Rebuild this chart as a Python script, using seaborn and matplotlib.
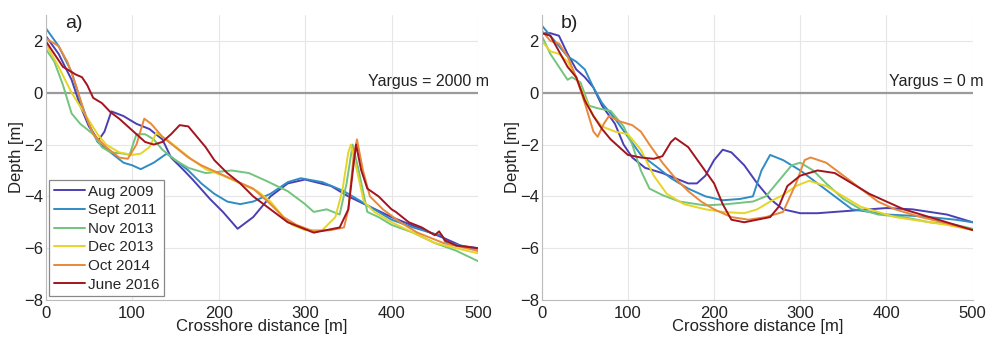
import pandas as pd
import seaborn as sns
import matplotlib
matplotlib.use("Agg")
import matplotlib.pyplot as plt

surveys = ['Aug 2009', 'Sept 2011', 'Nov 2013', 'Dec 2013', 'Oct 2014', 'June 2016']
colors = ['#4a3fb3', '#2f8cc4', '#72c47e', '#e6d426', '#e8883a', '#a3141e']

# panel a) Yargus = 2000 m
a_aug_x = [0, 15, 30, 40, 50, 61, 68, 76, 90, 105, 120, 135, 145, 160, 170, 190, 205, 222, 240, 260, 280, 300, 330, 350, 375, 400, 430, 460, 480, 500]
a_aug_y = [2.2, 1.5, 0.5, -0.5, -1.3, -1.84, -1.5, -0.72, -0.9, -1.2, -1.4, -1.8, -2.5, -3.0, -3.35, -4.1, -4.6, -5.25, -4.8, -4.0, -3.5, -3.35, -3.6, -4.0, -4.4, -4.8, -5.2, -5.6, -5.9, -6.0]
a_sep_x = [0, 15, 30, 40, 50, 60, 75, 90, 100, 110, 125, 140, 150, 165, 180, 195, 210, 225, 240, 260, 280, 295, 320, 345, 365, 385, 400, 425, 450, 458, 462, 480, 500]
a_sep_y = [2.5, 1.8, 0.8, -0.3, -1.2, -1.9, -2.3, -2.7, -2.8, -2.95, -2.7, -2.35, -2.6, -3.0, -3.5, -3.9, -4.2, -4.3, -4.2, -3.9, -3.45, -3.3, -3.45, -3.8, -4.2, -4.6, -4.9, -5.2, -5.45, -5.5, -5.75, -5.9, -6.1]
a_nov_x = [0, 10, 20, 30, 40, 55, 65, 75, 90, 97, 105, 115, 125, 135, 150, 165, 185, 200, 215, 235, 255, 280, 300, 310, 325, 340, 348, 355, 362, 372, 385, 400, 425, 450, 475, 500]
a_nov_y = [1.7, 1.2, 0.3, -0.8, -1.2, -1.6, -2.1, -2.3, -2.35, -2.4, -1.6, -1.6, -1.8, -2.2, -2.6, -2.9, -3.1, -3.05, -3.0, -3.1, -3.4, -3.8, -4.3, -4.6, -4.5, -4.7, -3.5, -2.0, -3.0, -4.6, -4.8, -5.1, -5.4, -5.8, -6.1, -6.5]
a_dec_x = [0, 15, 30, 45, 60, 70, 85, 100, 110, 120, 128, 140, 155, 170, 185, 205, 225, 245, 260, 275, 285, 300, 320, 335, 343, 350, 353, 360, 368, 380, 400, 425, 450, 475, 500]
a_dec_y = [1.9, 1.0, 0.0, -0.8, -1.6, -2.0, -2.3, -2.4, -2.35, -2.1, -1.55, -1.8, -2.2, -2.6, -2.95, -3.2, -3.5, -3.8, -4.2, -4.8, -5.1, -5.3, -5.3, -4.8, -3.8, -2.3, -2.0, -3.0, -4.2, -4.6, -5.0, -5.4, -5.8, -6.0, -6.2]
a_oct_x = [0, 15, 25, 35, 45, 55, 70, 85, 95, 105, 114, 122, 135, 150, 165, 180, 200, 220, 240, 260, 275, 290, 310, 330, 345, 350, 356, 360, 367, 375, 390, 410, 430, 460, 500]
a_oct_y = [2.1, 1.8, 1.2, 0.3, -0.8, -1.6, -2.1, -2.5, -2.55, -2.0, -1.0, -1.2, -1.7, -2.1, -2.5, -2.8, -3.1, -3.4, -3.7, -4.3, -4.8, -5.1, -5.35, -5.3, -5.2, -4.5, -2.5, -1.8, -3.0, -4.0, -4.5, -5.0, -5.4, -5.8, -6.1]
a_jun_x = [0, 10, 20, 35, 42, 48, 55, 65, 75, 85, 95, 105, 115, 125, 135, 145, 155, 165, 175, 185, 195, 210, 225, 240, 260, 280, 295, 310, 325, 340, 350, 356, 359, 365, 372, 385, 400, 405, 420, 435, 450, 455, 462, 475, 500]
a_jun_y = [2.0, 1.5, 1.0, 0.7, 0.6, 0.3, -0.2, -0.4, -0.75, -1.0, -1.3, -1.6, -1.9, -2.0, -1.9, -1.6, -1.25, -1.3, -1.7, -2.1, -2.6, -3.1, -3.5, -4.0, -4.5, -5.0, -5.2, -5.4, -5.3, -5.2, -4.5, -2.8, -2.0, -3.0, -3.7, -4.0, -4.5, -4.6, -5.0, -5.2, -5.5, -5.35, -5.7, -5.9, -6.0]

# panel b) Yargus = 0 m
b_aug_x = [0, 10, 20, 30, 40, 50, 60, 70, 85, 95, 105, 120, 140, 155, 170, 180, 190, 200, 210, 220, 235, 250, 265, 280, 300, 320, 340, 360, 380, 400, 430, 450, 470, 490, 500]
b_aug_y = [2.3, 2.3, 2.2, 1.5, 0.9, 0.6, 0.2, -0.5, -1.2, -2.0, -2.5, -2.9, -3.1, -3.3, -3.5, -3.5, -3.2, -2.6, -2.2, -2.3, -2.8, -3.5, -4.1, -4.5, -4.65, -4.65, -4.6, -4.55, -4.5, -4.45, -4.5, -4.6, -4.7, -4.9, -5.0]
b_sep_x = [0, 10, 20, 30, 40, 50, 60, 70, 85, 100, 115, 135, 150, 170, 190, 210, 230, 245, 255, 265, 280, 300, 320, 340, 360, 380, 400, 430, 450, 480, 500]
b_sep_y = [2.6, 2.2, 1.8, 1.4, 1.2, 0.9, 0.2, -0.4, -1.0, -1.7, -2.4, -2.9, -3.3, -3.7, -4.0, -4.15, -4.1, -4.0, -3.0, -2.4, -2.6, -3.0, -3.5, -4.0, -4.5, -4.6, -4.7, -4.75, -4.8, -4.9, -5.0]
b_nov_x = [0, 10, 20, 30, 35, 45, 55, 65, 80, 95, 105, 115, 125, 140, 160, 190, 215, 245, 260, 275, 290, 300, 315, 330, 350, 370, 390, 420, 450, 480, 500]
b_nov_y = [2.2, 1.5, 1.0, 0.5, 0.6, 0.4, -0.5, -0.6, -0.7, -1.3, -2.0, -3.0, -3.7, -3.95, -4.2, -4.35, -4.3, -4.2, -4.0, -3.4, -2.8, -2.7, -3.0, -3.5, -4.1, -4.5, -4.7, -4.8, -5.0, -5.1, -5.25]
b_dec_x = [0, 10, 20, 30, 40, 50, 60, 70, 85, 100, 115, 130, 145, 165, 190, 210, 235, 250, 265, 280, 295, 310, 330, 350, 370, 390, 410, 440, 470, 500]
b_dec_y = [2.0, 1.6, 1.5, 1.2, 0.6, -0.2, -0.9, -1.3, -1.5, -1.6, -2.2, -3.2, -3.9, -4.3, -4.5, -4.6, -4.65, -4.5, -4.2, -3.95, -3.6, -3.4, -3.6, -4.0, -4.4, -4.6, -4.8, -4.95, -5.1, -5.3]
b_oct_x = [0, 10, 20, 30, 40, 50, 60, 65, 72, 78, 90, 105, 115, 125, 140, 155, 170, 185, 200, 220, 240, 260, 280, 295, 305, 312, 330, 350, 370, 390, 410, 440, 465, 500]
b_oct_y = [2.4, 2.0, 1.9, 1.4, 0.6, -0.4, -1.5, -1.7, -1.2, -0.9, -1.1, -1.25, -1.5, -2.0, -2.7, -3.3, -3.8, -4.2, -4.5, -4.8, -4.9, -4.8, -4.6, -3.5, -2.6, -2.5, -2.7, -3.2, -3.7, -4.2, -4.5, -4.8, -5.0, -5.3]
b_jun_x = [0, 10, 20, 30, 40, 50, 60, 70, 80, 90, 100, 115, 130, 140, 150, 155, 170, 185, 200, 210, 220, 235, 250, 265, 275, 285, 300, 320, 340, 360, 380, 400, 420, 450, 480, 500]
b_jun_y = [2.3, 2.2, 1.6, 1.0, 0.6, -0.3, -0.9, -1.4, -1.8, -2.1, -2.4, -2.5, -2.55, -2.45, -1.9, -1.75, -2.1, -2.8, -3.5, -4.3, -4.9, -5.0, -4.9, -4.8, -4.4, -3.6, -3.2, -3.0, -3.1, -3.5, -3.9, -4.2, -4.5, -4.8, -5.1, -5.3]


def to_frame(pairs):
    rows = []
    for name, (xs, ys) in zip(surveys, pairs):
        for xv, yv in zip(xs, ys):
            rows.append({'x': xv, 'y': yv, 'survey': name})
    return pd.DataFrame(rows)


df_a = to_frame([(a_aug_x, a_aug_y), (a_sep_x, a_sep_y), (a_nov_x, a_nov_y),
                 (a_dec_x, a_dec_y), (a_oct_x, a_oct_y), (a_jun_x, a_jun_y)])
df_b = to_frame([(b_aug_x, b_aug_y), (b_sep_x, b_sep_y), (b_nov_x, b_nov_y),
                 (b_dec_x, b_dec_y), (b_oct_x, b_oct_y), (b_jun_x, b_jun_y)])

sns.set_style('whitegrid')
plt.rcParams['font.family'] = ['Liberation Sans', 'DejaVu Sans']
palette = dict(zip(surveys, colors))

fig = plt.figure(figsize=(9.86, 3.38), dpi=100)
ax_a = fig.add_axes([0.0463, 0.1124, 0.4385, 0.8432])
ax_b = fig.add_axes([0.5494, 0.1124, 0.4371, 0.8432])

for ax, df, lab, yarg in [(ax_a, df_a, 'a)', 'Yargus = 2000 m'), (ax_b, df_b, 'b)', 'Yargus = 0 m')]:
    ax.axhline(0, color='#9a9a9a', lw=1.6, zorder=1)
    sns.lineplot(data=df, x='x', y='y', hue='survey', hue_order=surveys, palette=palette,
                 sort=True, estimator=None, lw=1.4, ax=ax, legend=(ax is ax_a))
    ax.set_xlim(0, 500)
    ax.set_ylim(-8, 3)
    ax.set_xticks([0, 100, 200, 300, 400, 500])
    ax.set_yticks([-8, -6, -4, -2, 0, 2])
    ax.grid(True, color='#e6e6e6', lw=0.8)
    for s in ax.spines.values():
        s.set_visible(False)
    ax.spines['left'].set_visible(True)
    ax.spines['bottom'].set_visible(True)
    ax.spines['left'].set_color('#bbbbbb')
    ax.spines['bottom'].set_color('#bbbbbb')
    ax.tick_params(axis='x', labelsize=12, pad=4, colors='#222222', length=0)
    ax.tick_params(axis='y', labelsize=12, pad=2, colors='#222222', length=0)
    ax.set_xlabel('Crosshore distance [m]', fontsize=12, labelpad=-1, color='#222222')
    ax.set_ylabel('Depth [m]', fontsize=12, labelpad=0, color='#222222')
    ax.text(22, 2.68, lab, fontsize=14, va='center', ha='left', color='#222222')
    ax.text(513, 0.45, yarg, fontsize=11.5, va='center', ha='right', color='#222222', clip_on=False)

leg = ax_a.legend(loc='lower left', fontsize=11, handlelength=2.0, borderpad=0.3,
                  labelspacing=0.3, handletextpad=0.2, borderaxespad=0.25,
                  frameon=True, fancybox=False, edgecolor='#888888', framealpha=1)
leg.get_frame().set_linewidth(0.9)

fig.savefig('out.png', dpi=100)
